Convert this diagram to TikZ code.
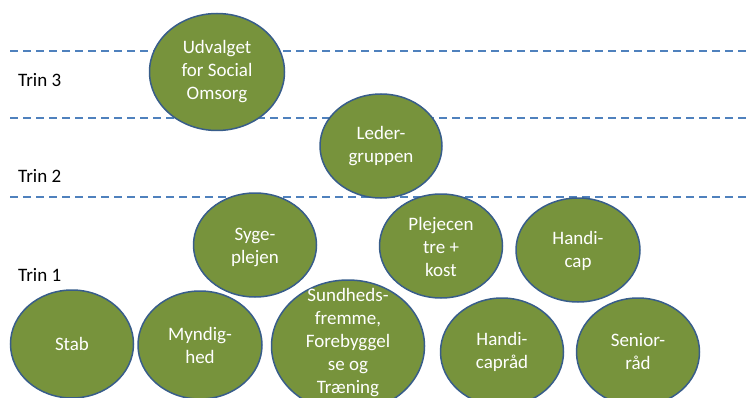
\documentclass[tikz,border=0pt]{standalone}
\usepackage{fontspec}
\setmainfont{Carlito}
\usepackage{tikz}
\usepackage{xcolor}
\usetikzlibrary{shapes.geometric}
\definecolor{olive}{RGB}{119,147,60}
\definecolor{rim}{RGB}{56,93,138}
\definecolor{dashblue}{RGB}{79,129,189}

\tikzset{
  unit/.style={draw=rim, line width=1.5pt, fill=olive, ellipse, inner sep=0pt},
  unittext/.style={text=white, align=center, font=\fontsize{19}{23}\selectfont},
  trin/.style={anchor=west, inner sep=0pt, font=\fontsize{19}{23}\selectfont},
  level/.style={dashblue, line width=2pt, dash pattern=on 8pt off 5pt}
}

\begin{document}
\begin{tikzpicture}[x=1pt,y=-1pt]
\useasboundingbox (0,0) rectangle (746,398);
\clip (0,0) rectangle (746,398);

% Trin levels
\coordinate (l3a) at (10,51);  \coordinate (l3b) at (746,51);
\coordinate (l2a) at (10,118); \coordinate (l2b) at (746,118);
\coordinate (l1a) at (10,197); \coordinate (l1b) at (746,197);
\draw[level] (l3a) -- (l3b);
\draw[level] (l2a) -- (l2b);
\draw[level] (l1a) -- (l1b);

\node[trin] (trin3) at (18,80) {Trin 3};
\node[trin] (trin2) at (18,176) {Trin 2};
\node[trin] (trin1) at (18,275) {Trin 1};

% Trin 3
\node[unit, minimum width=135pt, minimum height=117pt] (udvalg) at (217,72) {};
\node[unittext] (udvalgtxt) at (udvalg) {Udvalget\\for Social\\Omsorg};

% Trin 2
\node[unit, minimum width=122pt, minimum height=104pt] (leder) at (381,146) {};
\node[unittext] (ledertxt) at (leder) {Leder-\\gruppen};

% Trin 1, upper row
\node[unit, minimum width=123pt, minimum height=104pt] (syge) at (255,245) {};
\node[unittext] (sygetxt) at ([yshift=-2pt]syge.center) {Syge-\\plejen};
\node[unit, minimum width=123pt, minimum height=104pt] (pleje) at (441,246) {};
\node[unittext] (plejetxt) at ([yshift=-1pt]pleje.center) {Plejecen\\tre +\\kost};
\node[unit, minimum width=124pt, minimum height=104pt] (handi) at (578,250) {};
\node[unittext] (handitxt) at ([yshift=-1pt]handi.center) {Handi-\\cap};

% Trin 1, lower row
\node[unit, minimum width=123pt, minimum height=108pt] (stab) at (72,344) {};
\node[unittext] (stabtxt) at (stab) {Stab};
\node[unit, minimum width=124pt, minimum height=108pt] (myndig) at (200,345) {};
\node[unittext] (myndigtxt) at (myndig) {Myndig-\\hed};
\node[unit, minimum width=153pt, minimum height=132pt] (sund) at (348,346) {};
\node[unittext] (sundtxt) at ([yshift=3pt]sund.center) {Sundheds-\\fremme,\\Forebyggel\\se og\\Træning};
\node[unit, minimum width=123pt, minimum height=108pt] (handiraad) at (502,352) {};
\node[unittext] (handiraadtxt) at (handiraad) {Handi-\\capråd};
\node[unit, minimum width=123pt, minimum height=108pt] (senior) at (638,352) {};
\node[unittext] (seniortxt) at (senior) {Senior-\\råd};
\end{tikzpicture}
\end{document}
